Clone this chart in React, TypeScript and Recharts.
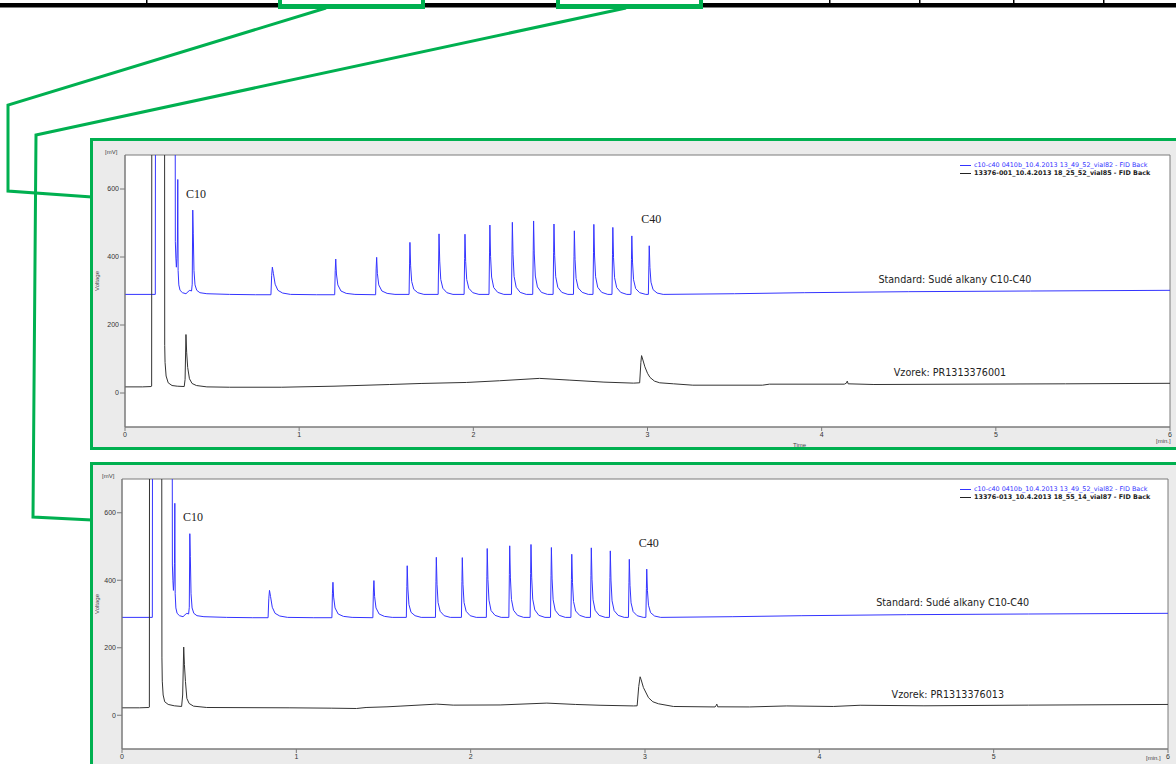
import {
  CartesianGrid,
  Line,
  LineChart,
  ReferenceArea,
  ReferenceDot,
  XAxis,
  YAxis,
} from 'recharts'

// time [min], voltage [mV]; values above 700 run off the top of the plot
const standardTrace: [number, number][] = [
  [0, 290], [0.174, 290], [0.177, 2000], [0.286, 2000], [0.289, 445], [0.292, 400],
  [0.295, 370], [0.298, 395], [0.301, 450], [0.303, 628], [0.305, 360], [0.309, 318],
  [0.316, 302], [0.33, 295], [0.35, 292], [0.362, 298], [0.372, 302], [0.382, 300],
  [0.386, 320], [0.389, 538], [0.392, 470], [0.396, 360], [0.402, 318], [0.412, 302],
  [0.43, 295], [0.47, 292], [0.6, 290], [0.75, 289],
  [0.838, 289], [0.842, 345], [0.846, 370], [0.852, 352], [0.862, 320], [0.878, 302], [0.905, 294], [0.95, 290],
  [1.1, 289],
  [1.204, 289], [1.207, 360], [1.21, 394], [1.214, 350], [1.222, 318], [1.24, 300], [1.27, 293], [1.32, 290],
  [1.439, 289], [1.442, 365], [1.445, 399], [1.449, 352], [1.457, 318], [1.475, 300], [1.505, 293], [1.55, 290],
  [1.631, 290], [1.634, 382], [1.636, 443], [1.64, 374], [1.646, 328], [1.658, 305], [1.681, 295], [1.716, 290],
  [1.798, 290], [1.801, 397], [1.803, 468], [1.807, 388], [1.813, 334], [1.825, 308], [1.848, 295], [1.883, 290],
  [1.947, 290], [1.95, 396], [1.952, 467], [1.956, 387], [1.962, 334], [1.974, 308], [1.997, 295], [2.032, 290],
  [2.09, 290], [2.093, 412], [2.095, 494], [2.099, 402], [2.105, 341], [2.117, 310], [2.14, 296], [2.175, 290],
  [2.219, 290], [2.222, 417], [2.224, 502], [2.228, 407], [2.234, 343], [2.246, 311], [2.269, 296], [2.304, 290],
  [2.341, 290], [2.344, 420], [2.346, 506], [2.35, 409], [2.356, 344], [2.368, 312], [2.391, 296], [2.426, 290],
  [2.458, 290], [2.461, 414], [2.463, 497], [2.467, 404], [2.473, 342], [2.485, 311], [2.508, 296], [2.543, 290],
  [2.575, 290], [2.578, 402], [2.58, 477], [2.584, 393], [2.59, 337], [2.602, 309], [2.625, 296], [2.66, 290],
  [2.687, 290], [2.69, 414], [2.692, 496], [2.696, 403], [2.702, 342], [2.714, 311], [2.737, 296], [2.772, 290],
  [2.796, 290], [2.799, 408], [2.801, 487], [2.805, 398], [2.811, 339], [2.823, 310], [2.846, 296], [2.881, 290],
  [2.905, 290], [2.908, 393], [2.91, 462], [2.914, 385], [2.92, 333], [2.932, 307], [2.955, 295], [2.99, 290],
  [3.005, 290], [3.008, 376], [3.01, 433], [3.014, 369], [3.02, 326], [3.032, 304], [3.055, 294], [3.09, 290],
  [3.5, 292], [3.9, 295], [4.5, 298], [5.2, 300], [6, 302],
]

const sample001Trace: [number, number][] = [
  [0, 18], [0.1, 18], [0.15, 19], [0.153, 20], [0.155, 2000], [0.226, 2000], [0.228, 140],
  [0.23, 90], [0.236, 50], [0.248, 30], [0.27, 22], [0.3, 20], [0.34, 19], [0.345, 40],
  [0.35, 172], [0.354, 120], [0.36, 75], [0.37, 42], [0.385, 28], [0.41, 22], [0.47, 18],
  [0.6, 17], [0.9, 17], [1.2, 20], [1.52, 25], [1.7, 28], [1.96, 31], [2.15, 36], [2.38, 43],
  [2.55, 38], [2.75, 32], [2.92, 29], [2.955, 30], [2.962, 90], [2.966, 110], [2.972, 100],
  [2.985, 77], [3.0, 58], [3.014, 46], [3.04, 35], [3.07, 30], [3.15, 27], [3.26, 23],
  [3.66, 23], [3.7, 26], [4.13, 26], [4.142, 29], [4.147, 35], [4.152, 27], [4.3, 25],
  [4.8, 26], [5.4, 27], [6, 28.5],
]

const sample013Trace: [number, number][] = [
  [0, 22], [0.1, 22], [0.154, 23], [0.157, 24], [0.159, 2000], [0.226, 2000], [0.229, 170],
  [0.231, 101], [0.236, 60], [0.245, 40], [0.265, 32], [0.3, 28], [0.342, 26], [0.348, 60],
  [0.354, 202], [0.358, 150], [0.364, 100], [0.372, 50], [0.385, 35], [0.41, 27], [0.486, 23],
  [0.963, 22], [1.2, 21], [1.345, 20], [1.4, 23], [1.52, 25], [1.595, 27], [1.805, 33],
  [1.9, 30], [2.169, 30.5], [2.437, 36], [2.6, 32], [2.742, 29.6], [2.934, 27.6], [2.955, 28],
  [2.964, 85], [2.972, 114], [2.978, 105], [2.991, 82], [3.02, 52], [3.045, 40], [3.077, 34],
  [3.163, 26], [3.402, 24.6], [3.407, 28], [3.412, 33], [3.417, 25], [3.6, 24.6], [3.813, 27.6],
  [4.08, 26], [4.234, 29.6], [4.6, 28], [5.2, 30], [6, 32],
]

const timeTicks = [0, 1, 2, 3, 4, 5, 6]
const voltageTicks = [0, 200, 400, 600]
const standardName = 'c10-c40 0410b_10.4.2013 13_49_52_vial82 - FID Back'
const sampleNames = [
  '13376-001_10.4.2013 18_25_52_vial85 - FID Back',
  '13376-013_10.4.2013 18_55_14_vial87 - FID Back',
]
const sampleLabels = ['Vzorek: PR1313376001', 'Vzorek: PR1313376013']
const standardLabel = 'Standard: Sudé alkany C10-C40'

const toRows = (trace: [number, number][]) => trace.map(([t, v]) => ({ t, v }))

const BLUE = '#3434ff'
const BLACK = '#333'
const GREEN = '#00b050'
const tickStyle = { fontSize: 7, fill: '#333', fontFamily: 'Liberation Sans' }
const smallText = { position: 'absolute' as const, fontSize: 6, lineHeight: '7px', color: '#444', fontFamily: 'Liberation Sans' }

interface PanelProps {
  top: number
  sample: [number, number][]
  sampleName: string
  sampleLabel: string
  yAxisWidth: number
  marginRight: number
  height: number
  unitPos: { left: number; top: number }
  showTime: boolean
}

function ChromPanel({ top, sample, sampleName, sampleLabel, yAxisWidth, marginRight, height, unitPos, showTime }: PanelProps) {
  const plotLeft = 95 + yAxisWidth
  return (
    <>
      <div
        style={{
          position: 'absolute',
          left: 90,
          top: top - 2,
          width: 1100,
          height: height + 6,
          border: `3px solid ${GREEN}`,
          background: '#ebebeb',
          boxSizing: 'border-box',
        }}
      />
      <div style={{ position: 'absolute', left: 95, top: top + 1 }}>
        <LineChart
          width={1090}
          height={height}
          margin={{ top: 14, right: marginRight, bottom: 6, left: 0 }}
        >
          <CartesianGrid fill="#fff" horizontal={false} vertical={false} />
          <XAxis
            dataKey="t"
            type="number"
            domain={[0, 6]}
            ticks={timeTicks}
            allowDataOverflow
            height={14}
            tickSize={4}
            tickMargin={1}
            tick={tickStyle}
            stroke="#7a7a7a"
          />
          <YAxis
            type="number"
            domain={[-100, 700]}
            ticks={voltageTicks}
            allowDataOverflow
            width={yAxisWidth}
            tickSize={5}
            tickMargin={1}
            tick={tickStyle}
            stroke="#7a7a7a"
            label={{ value: 'Voltage', angle: -90, position: 'insideLeft', offset: 2, fontSize: 6, fill: '#444', fontFamily: 'Liberation Sans' }}
          />
          <ReferenceArea x1={0} x2={6} y1={-100} y2={700} fill="none" stroke="#7a7a7a" />
          <Line
            data={toRows(standardTrace)}
            dataKey="v"
            type="linear"
            stroke={BLUE}
            strokeWidth={1}
            dot={false}
            isAnimationActive={false}
          />
          <Line
            data={toRows(sample)}
            dataKey="v"
            type="linear"
            stroke={BLACK}
            strokeWidth={1}
            dot={false}
            isAnimationActive={false}
          />
          <ReferenceDot x={0.408} y={587} r={0} label={{ value: 'C10', position: 'center', fontSize: 12, fill: '#222', fontFamily: 'Liberation Serif' }} />
          <ReferenceDot x={3.022} y={512} r={0} label={{ value: 'C40', position: 'center', fontSize: 12, fill: '#222', fontFamily: 'Liberation Serif' }} />
          <ReferenceDot x={4.765} y={334} r={0} label={{ value: standardLabel, position: 'center', fontSize: 9.6, fill: '#222', fontFamily: 'DejaVu Sans' }} />
          <ReferenceDot x={4.737} y={61} r={0} label={{ value: sampleLabel, position: 'center', fontSize: 9.6, fill: '#222', fontFamily: 'DejaVu Sans' }} />
        </LineChart>
      </div>
      <div style={{ ...smallText, left: plotLeft - 20, top: top + 9 }}>[mV]</div>
      <div style={{ ...smallText, left: unitPos.left, top: unitPos.top }}>[min.]</div>
      {showTime && <div style={{ ...smallText, left: 793, top: top + 302 }}>Time</div>}
      <div
        style={{
          position: 'absolute',
          left: 960,
          top: top + 21,
          fontFamily: 'DejaVu Sans',
          fontSize: 6.4,
          lineHeight: '8px',
          whiteSpace: 'nowrap',
        }}
      >
        <div style={{ display: 'flex', alignItems: 'center', color: BLUE }}>
          <span style={{ width: 11, height: 1, background: BLUE, marginRight: 3 }} />
          {standardName}
        </div>
        <div style={{ display: 'flex', alignItems: 'center', color: '#222', fontWeight: 'bold' }}>
          <span style={{ width: 11, height: 1, background: '#222', marginRight: 3 }} />
          {sampleName}
        </div>
      </div>
    </>
  )
}

function Header() {
  return (
    <svg width={1176} height={764} style={{ position: 'absolute', left: 0, top: 0 }}>
      <rect x={0} y={3} width={1176} height={4.5} fill="#000" />
      {[146, 829, 919, 1013, 1103].map((x) => (
        <rect key={x} x={x} y={0} width={1.5} height={4} fill="#000" />
      ))}
      <rect x={278} y={-4} width={147} height={13} fill={GREEN} />
      <rect x={282} y={-4} width={139} height={8} fill="#fff" />
      <rect x={556} y={-4} width={147} height={13} fill={GREEN} />
      <rect x={560} y={-4} width={139} height={8} fill="#fff" />
      <polyline points="326,8 8,105 8,191 92,197" fill="none" stroke={GREEN} strokeWidth={3} />
      <polyline points="626,8 36,135 33,517 92,520" fill="none" stroke={GREEN} strokeWidth={3} />
    </svg>
  )
}

export default function App() {
  return (
    <div style={{ position: 'absolute', left: 0, top: 0, width: 1176, height: 764, overflow: 'hidden', background: '#fff' }}>
      <Header />
      <ChromPanel
        top={140}
        sample={sample001Trace}
        sampleName={sampleNames[0]}
        sampleLabel={sampleLabels[0]}
        yAxisWidth={30}
        marginRight={15}
        height={306}
        unitPos={{ left: 1156, top: 438 }}
        showTime
      />
      <ChromPanel
        top={464}
        sample={sample013Trace}
        sampleName={sampleNames[1]}
        sampleLabel={sampleLabels[1]}
        yAxisWidth={27}
        marginRight={17}
        height={304}
        unitPos={{ left: 1146, top: 755 }}
        showTime={false}
      />
    </div>
  )
}
